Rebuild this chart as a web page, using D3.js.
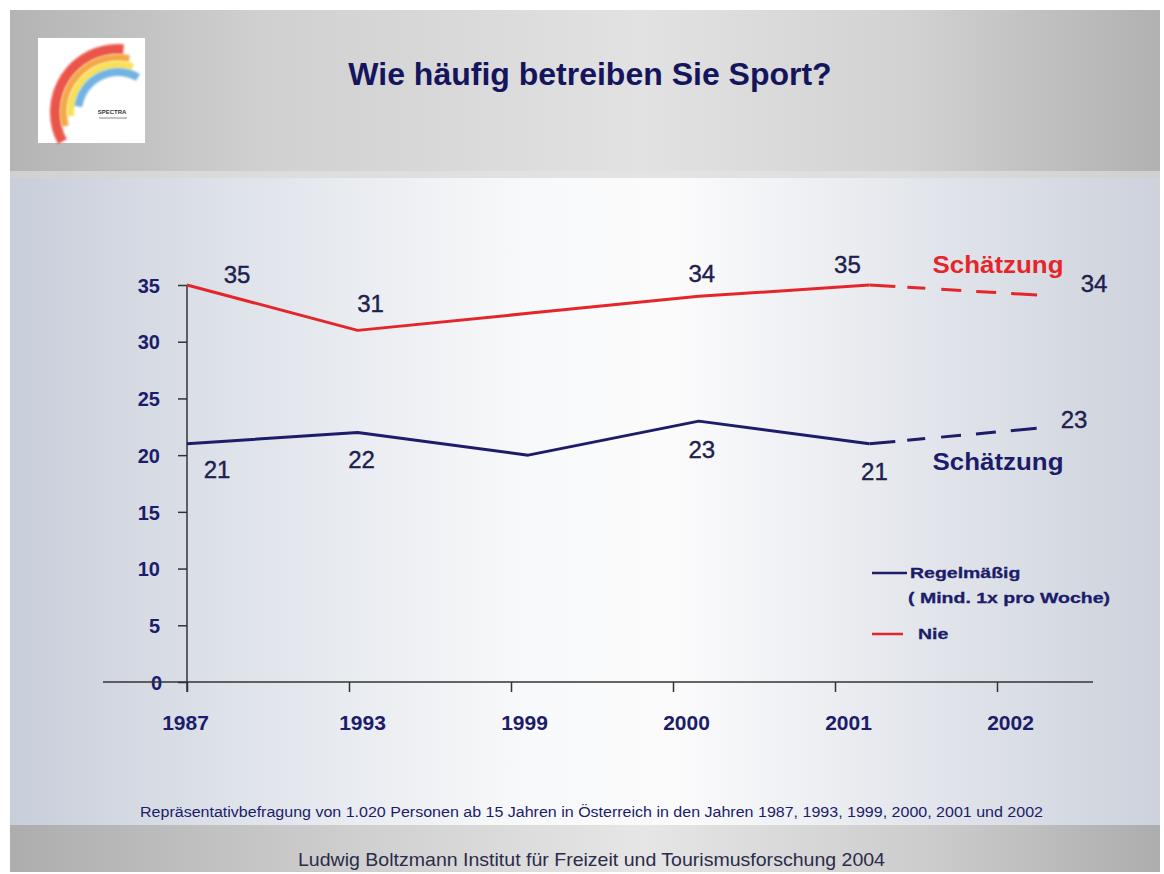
<!DOCTYPE html>
<html>
<head>
<meta charset="utf-8">
<script src="https://cdn.jsdelivr.net/npm/d3@7"></script>
<style>
  body { margin: 0; background: #fff; }
  svg { display: block; }
  text { font-family: "Liberation Sans", Arial, sans-serif; }
</style>
</head>
<body>
<div id="chart"></div>
<script>
// data
const years = ['1987', '1993', '1999', '2000', '2001', '2002'];
const regelmaessig = [21, 22, 20, 23, 21, 22.4];
const nie = [35, 31, 32.5, 34, 35, 34.1];
const regelLabels = ['21', '22', null, '23', '21', '23'];
const nieLabels = ['35', '31', null, '34', '35', '34'];
const yTicks = [0, 5, 10, 15, 20, 25, 30, 35];
const estimateFrom = '2001';   // from here on the lines are "Schätzung"

const navy = '#1c1c6a';
const numColor = '#20204e';
const red = '#e4262b';

const width = 1164, height = 874;
const svg = d3.select('#chart').append('svg')
  .attr('width', width)
  .attr('height', height);

const defs = svg.append('defs');

function hGrad(id, stops) {
  const g = defs.append('linearGradient').attr('id', id)
    .attr('x1', '0%').attr('x2', '100%').attr('y1', '0%').attr('y2', '0%');
  stops.forEach(s => g.append('stop').attr('offset', s[0]).attr('stop-color', s[1]));
}
hGrad('headGrad', [['0%', '#b4b4b4'], ['22%', '#d0d0d0'], ['55%', '#e2e2e2'], ['78%', '#d2d2d2'], ['100%', '#b1b1b1']]);
hGrad('bodyGrad', [['0%', '#c8ceda'], ['20%', '#dfe3ea'], ['45%', '#f8f9fa'], ['58%', '#fbfbfc'], ['80%', '#e2e5eb'], ['100%', '#cdd2dc']]);
hGrad('footGrad', [['0%', '#adadad'], ['30%', '#cfcfcf'], ['55%', '#e6e6e6'], ['80%', '#cccccc'], ['100%', '#adadad']]);

defs.append('filter').attr('id', 'soft')
  .append('feGaussianBlur').attr('stdDeviation', 1.3);

// slide background
svg.append('rect').attr('x', 10).attr('y', 10).attr('width', 1150).attr('height', 168).attr('fill', 'url(#headGrad)');
svg.append('rect').attr('x', 10).attr('y', 171).attr('width', 1150).attr('height', 7).attr('fill', '#e4e4e4').attr('opacity', 0.6);
svg.append('rect').attr('x', 10).attr('y', 178).attr('width', 1150).attr('height', 647).attr('fill', 'url(#bodyGrad)');
svg.append('rect').attr('x', 10).attr('y', 825).attr('width', 1150).attr('height', 47).attr('fill', 'url(#footGrad)');

// logo
const logo = svg.append('g');
logo.append('rect').attr('x', 38).attr('y', 38).attr('width', 107).attr('height', 105).attr('fill', '#fff');
const bands = [
  {inner: 58, outer: 68, start: -118, end: 5, color: '#e8382c'},
  {inner: 51, outer: 58, start: -105, end: 12, color: '#f39a2a'},
  {inner: 44, outer: 51, start: -95, end: 18, color: '#f7dc3a'},
  {inner: 36, outer: 44, start: -82, end: 30, color: '#5aa6dc'}
];
const arc = d3.arc();
logo.selectAll('path.band')
  .data(bands)
  .join('path')
  .attr('class', 'band')
  .attr('transform', 'translate(118,112)')
  .attr('fill', d => d.color)
  .attr('opacity', 0.85)
  .attr('filter', 'url(#soft)')
  .attr('d', d => arc({innerRadius: d.inner, outerRadius: d.outer,
    startAngle: d.start * Math.PI / 180, endAngle: d.end * Math.PI / 180}));
logo.append('text').attr('x', 112).attr('y', 114).attr('text-anchor', 'middle')
  .attr('font-size', 6).attr('font-weight', 'bold').attr('fill', '#333').text('SPECTRA');
logo.append('line').attr('x1', 99).attr('x2', 127).attr('y1', 118).attr('y2', 118)
  .attr('stroke', '#888').attr('stroke-width', 1);

// title
svg.append('text')
  .attr('x', 590).attr('y', 85)
  .attr('text-anchor', 'middle')
  .attr('font-size', 32).attr('font-weight', 'bold')
  .attr('fill', '#15155e')
  .text('Wie häufig betreiben Sie Sport?');

// scales
const y = d3.scaleLinear().domain([0, 35]).range([682, 285]);
const xLine = d3.scalePoint().domain(years).range([187, 1040]);
const xTick = d3.scalePoint().domain(years).range([187, 997]);

const chart = svg.append('g');

// y axis
const yAxis = d3.axisLeft(y).tickValues(yTicks).tickSize(9).tickPadding(18);
const yG = chart.append('g').attr('transform', 'translate(187,0)').call(yAxis);
yG.select('.domain').remove();
yG.selectAll('.tick line').attr('stroke', '#333').attr('stroke-width', 1.5);
yG.selectAll('.tick text')
  .attr('font-size', 20).attr('font-weight', 'bold').attr('fill', navy)
  .attr('font-family', '"Liberation Sans", Arial, sans-serif')
  .attr('dy', '0.36em');
yG.selectAll('.tick').filter(d => d === 0).select('text').attr('x', -25);

// x axis
const xAxis = d3.axisBottom(xTick).tickSize(10);
const xG = chart.append('g').attr('transform', `translate(0,${y(0)})`).call(xAxis);
xG.select('.domain').remove();
xG.selectAll('.tick line').attr('stroke', '#333').attr('stroke-width', 1.5);
xG.selectAll('.tick text')
  .attr('font-size', 21).attr('font-weight', 'bold').attr('fill', navy)
  .attr('font-family', '"Liberation Sans", Arial, sans-serif')
  .attr('y', 48).attr('dy', 0)
  .attr('x', (d, i) => i === 0 ? -2 : 13);

// axis lines
chart.append('line')
  .attr('x1', 103).attr('x2', 1093)
  .attr('y1', y(0)).attr('y2', y(0))
  .attr('stroke', '#333').attr('stroke-width', 1.5);
chart.append('line')
  .attr('x1', xLine(years[0])).attr('x2', xLine(years[0]))
  .attr('y1', y(35)).attr('y2', y(0) + 10)
  .attr('stroke', '#333').attr('stroke-width', 1.5);

// lines
const series = [
  {values: nie, labels: nieLabels, color: red,
   offsets: [[50, -2], [13, -18], null, [3, -14], [-22, -12], [54, -3]]},
  {values: regelmaessig, labels: regelLabels, color: navy,
   offsets: [[30, 34], [4, 36], null, [3, 37], [5, 36], [34, 0]]}
];
const line = d3.line()
  .x(d => xLine(d.year))
  .y(d => y(d.value));

const cut = years.indexOf(estimateFrom);
series.forEach(s => {
  const pts = years.map((yr, i) => ({year: yr, value: s.values[i], label: s.labels[i], off: s.offsets[i]}));
  chart.append('path')
    .datum(pts.slice(0, cut + 1))
    .attr('fill', 'none')
    .attr('stroke', s.color)
    .attr('stroke-width', 3)
    .attr('stroke-linejoin', 'round')
    .attr('d', line);
  chart.append('path')
    .datum(pts.slice(cut))
    .attr('fill', 'none')
    .attr('stroke', s.color)
    .attr('stroke-width', 3)
    .attr('stroke-dasharray', '26,12,18,16,20,15,20,15')
    .attr('d', line);
  chart.selectAll(null)
    .data(pts.filter(p => p.label))
    .join('text')
    .attr('x', d => xLine(d.year) + d.off[0])
    .attr('y', d => y(d.value) + d.off[1])
    .attr('text-anchor', 'middle')
    .attr('font-size', 24)
    .attr('fill', numColor)
    .attr('stroke', numColor).attr('stroke-width', 0.4)
    .text(d => d.label);
});

// estimate notes
chart.append('text')
  .attr('x', 998).attr('y', 273).attr('text-anchor', 'middle')
  .attr('font-size', 24).attr('font-weight', 'bold').attr('fill', red)
  .attr('transform', 'translate(998,0) scale(1.08,1) translate(-998,0)')
  .text('Schätzung');
chart.append('text')
  .attr('x', 998).attr('y', 470).attr('text-anchor', 'middle')
  .attr('font-size', 24).attr('font-weight', 'bold').attr('fill', navy)
  .attr('transform', 'translate(998,0) scale(1.08,1) translate(-998,0)')
  .text('Schätzung');

// legend
const legendItems = [
  {name: 'Regelmäßig', sub: '( Mind. 1x pro Woche)', color: navy},
  {name: 'Nie', sub: null, color: red}
];
const legend = svg.append('g').attr('transform', 'translate(872,573)');
legendItems.forEach((d, i) => {
  const gy = i === 0 ? 0 : 61;
  const g = legend.append('g').attr('transform', `translate(0,${gy})`);
  g.append('line').attr('x1', 0).attr('x2', i === 0 ? 35 : 31).attr('y1', 0).attr('y2', 0)
    .attr('stroke', d.color).attr('stroke-width', 2.5);
  const t = g.append('g').attr('transform', `translate(${i === 0 ? 38 : 46},5) scale(1.3,1)`);
  t.append('text').attr('font-size', 15).attr('font-weight', 'bold').attr('fill', navy)
    .attr('stroke', navy).attr('stroke-width', 0.3).text(d.name);
  if (d.sub) {
    t.append('text').attr('y', 25).attr('x', -1.5).attr('font-size', 15).attr('font-weight', 'bold')
      .attr('fill', navy).attr('stroke', navy).attr('stroke-width', 0.3).text(d.sub);
  }
});

// footnotes
svg.append('text')
  .attr('x', 140).attr('y', 817)
  .attr('font-size', 14)
  .attr('font-family', '"Liberation Sans Narrow", "Liberation Sans", Arial, sans-serif')
  .attr('fill', navy)
  .attr('textLength', 903).attr('lengthAdjust', 'spacingAndGlyphs')
  .text('Repräsentativbefragung von 1.020 Personen ab 15 Jahren in Österreich in den Jahren 1987, 1993, 1999, 2000, 2001 und 2002');
svg.append('text')
  .attr('x', 298).attr('y', 866)
  .attr('font-size', 19)
  .attr('font-family', '"Liberation Sans Narrow", "Liberation Sans", Arial, sans-serif')
  .attr('fill', '#2b2b4a')
  .attr('textLength', 587).attr('lengthAdjust', 'spacingAndGlyphs')
  .text('Ludwig Boltzmann Institut für Freizeit und Tourismusforschung 2004');
</script>
</body>
</html>
